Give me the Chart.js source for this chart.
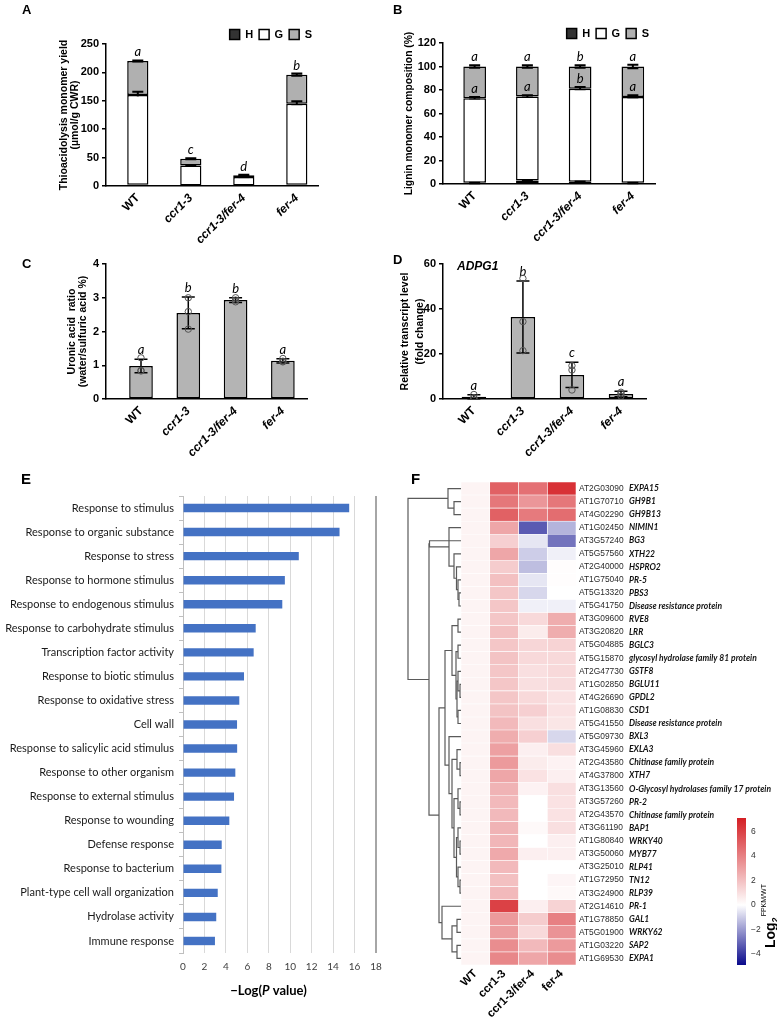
<!DOCTYPE html>
<html><head><meta charset="utf-8">
<script src="https://cdn.jsdelivr.net/npm/chart.js@4.4.1/dist/chart.umd.min.js"></script>
<style>
html,body{margin:0;padding:0;background:#fff;}
#page{position:relative;width:777px;height:1018px;overflow:hidden;background:#fff;}
canvas{position:absolute;}
.pl{position:absolute;font-family:"Liberation Sans",Arial,sans-serif;font-weight:bold;line-height:1;color:#000;}
</style></head><body><div id="page">
<canvas id="cA" width="340" height="260" style="left:0px;top:0px"></canvas>
<canvas id="cB" width="300" height="260" style="left:380px;top:0px"></canvas>
<canvas id="cC" width="340" height="240" style="left:0px;top:230px"></canvas>
<canvas id="cD" width="300" height="240" style="left:380px;top:230px"></canvas>
<canvas id="cE" width="390" height="548" style="left:0px;top:470px"></canvas>
<canvas id="cF" width="377" height="548" style="left:400px;top:470px"></canvas>
<canvas id="cK" width="77" height="180" style="left:700px;top:800px"></canvas>
<div class="pl" style="left:22px;top:3px;font-size:13px">A</div>
<div class="pl" style="left:393px;top:3px;font-size:13px">B</div>
<div class="pl" style="left:22px;top:257px;font-size:13px">C</div>
<div class="pl" style="left:393px;top:253px;font-size:13px">D</div>
<div class="pl" style="left:21px;top:471px;font-size:15px">E</div>
<div class="pl" style="left:411px;top:471px;font-size:15px">F</div>
</div>
<script>
// ---------------- DATA ----------------
const genotypes = ['WT', 'ccr1-3', 'ccr1-3/fer-4', 'fer-4'];
const monomers = ['H', 'G', 'S'];

// Panel A: thioacidolysis monomer yield (µmol/g CWR)
const thioH = [2, 1, 1, 2];
const thioG = [158, 35, 15, 143];
const thioS = [60, 12, 3, 51];
const thioErrG = [6, 0.5, 0.8, 4];
const thioErrTotal = [1, 1, 1, 2];
const thioLetters = ['a', 'c', 'd', 'b'];

// Panel B: lignin monomer composition (%)
const compH = [1, 3, 2, 1];
const compG = [72, 71.5, 79, 73];
const compS = [27, 25.5, 19, 26];
const compErrH = [0.3, 0.8, 0.5, 0.3];
const compErrG = [1, 1, 1.5, 1.5];
const compErrTotal = [1, 1, 1, 1.5];
const compLettersH = ['a', 'b', 'a', 'a'];
const compLettersG = ['a', 'a', 'b', 'a'];
const compLettersTotal = ['a', 'a', 'b', 'a'];

// Panel C: uronic acid ratio
const uronicMean = [0.98, 2.55, 2.93, 1.13];
const uronicSd = [0.2, 0.47, 0.07, 0.06];
const uronicPoints = [[1.22, 0.83, 0.85], [3.0, 2.59, 2.07], [3.0, 2.93, 2.88], [1.2, 1.12, 1.1]];
const uronicLetters = ['a', 'b', 'b', 'a'];

// Panel D: ADPG1 relative transcript level
const adpgMean = [1.0, 36.5, 10.7, 2.2];
const adpgSd = [0.9, 16, 5.6, 1.2];
const adpgPoints = [[2.0, 0.5, 0.5], [53.6, 34.4, 21.5], [14.8, 12.9, 4.0], [3.0, 2.3, 1.3]];
const adpgLetters = ['a', 'b', 'c', 'a'];

// Panel E: GO enrichment
const goTerms = ['Response to stimulus', 'Response to organic substance', 'Response to stress',
  'Response to hormone stimulus', 'Response to endogenous stimulus', 'Response to carbohydrate stimulus',
  'Transcription factor activity', 'Response to biotic stimulus', 'Response to oxidative stress',
  'Cell wall', 'Response to salicylic acid stimulus', 'Response to other organism',
  'Response to external stimulus', 'Response to wounding', 'Defense response',
  'Response to bacterium', 'Plant-type cell wall organization', 'Hydrolase activity', 'Immune response'];
const goNegLogP = [15.5, 14.6, 10.8, 9.5, 9.26, 6.78, 6.59, 5.69, 5.25, 5.04, 5.05, 4.88, 4.76, 4.32, 3.61, 3.58, 3.24, 3.1, 2.98];
const goTicks = [0, 2, 4, 6, 8, 10, 12, 14, 16, 18];

// Panel F: heatmap log2(FPKM/WT)
const geneIds = ['AT2G03090', 'AT1G70710', 'AT4G02290', 'AT1G02450', 'AT3G57240', 'AT5G57560', 'AT2G40000',
  'AT1G75040', 'AT5G13320', 'AT5G41750', 'AT3G09600', 'AT3G20820', 'AT5G04885', 'AT5G15870', 'AT2G47730',
  'AT1G02850', 'AT4G26690', 'AT1G08830', 'AT5G41550', 'AT5G09730', 'AT3G45960', 'AT2G43580', 'AT4G37800',
  'AT3G13560', 'AT3G57260', 'AT2G43570', 'AT3G61190', 'AT1G80840', 'AT3G50060', 'AT3G25010', 'AT1G72950',
  'AT3G24900', 'AT2G14610', 'AT1G78850', 'AT5G01900', 'AT1G03220', 'AT1G69530'];
const geneNames = ['EXPA15', 'GH9B1', 'GH9B13', 'NIMIN1', 'BG3', 'XTH22', 'HSPRO2', 'PR-5', 'PBS3',
  'Disease resistance protein', 'RVE8', 'LRR', 'BGLC3', 'glycosyl hydrolase family 81 protein', 'GSTF8',
  'BGLU11', 'GPDL2', 'CSD1', 'Disease resistance protein', 'BXL3', 'EXLA3', 'Chitinase family protein', 'XTH7',
  'O-Glycosyl hydrolases family 17 protein', 'PR-2', 'Chitinase family protein', 'BAP1', 'WRKY40', 'MYB77',
  'RLP41', 'TN12', 'RLP39', 'PR-1', 'GAL1', 'WRKY62', 'SAP2', 'EXPA1'];
const log2WT = [0.35, 0.35, 0.35, 0.35, 0.35, 0.35, 0.35, 0.35, 0.35, 0.35, 0.35, 0.35, 0.35, 0.35, 0.35, 0.35, 0.35, 0.35, 0.35,
  0.35, 0.35, 0.35, 0.35, 0.35, 0.35, 0.35, 0.35, 0.35, 0.35, 0.35, 0.35, 0.35, 0.35, 0.35, 0.35, 0.35, 0.35];
const log2Ccr = [5.0, 4.3, 5.0, 2.8, 1.5, 2.8, 1.6, 2.0, 1.8, 1.8, 1.8, 2.0, 1.8, 1.9, 1.8, 1.8, 1.8, 1.9, 2.2,
  2.6, 3.0, 3.2, 2.8, 2.4, 2.2, 2.2, 2.4, 2.3, 2.7, 2.2, 2.0, 2.2, 6.0, 3.2, 3.1, 3.6, 3.8];
const log2CcrFer = [4.5, 3.3, 4.2, -3.3, -0.5, -1.0, -1.3, -0.5, -0.8, -0.3, 1.2, 0.6, 1.3, 1.2, 1.0, 1.0, 1.2, 1.5, 1.0,
  1.5, 0.5, 0.6, 0.9, 0.4, 0, 0, 0.2, 0, 0.5, 0, 0, 0, 0.5, 1.6, 1.2, 2.2, 2.8];
const log2Fer = [6.5, 4.3, 4.6, -1.5, -2.8, -0.3, 0.05, 0.05, 0, -0.3, 2.6, 2.6, 1.4, 1.2, 1.2, 1.1, 0.9, 0.9, 0.8,
  -0.8, 1.0, 0.4, 0.5, 1.0, 0.9, 0.9, 1.0, 0.5, 0.5, 0, 0.3, 0.2, 1.4, 4.0, 3.4, 3.2, 3.6];
const heatColumns = [log2WT, log2Ccr, log2CcrFer, log2Fer];
const colorbarMin = -4.9, colorbarMax = 7.1;
const colorbarTicks = [-4, -2, 0, 2, 4, 6];
// dendrogram merges [childA, childB, distance]; indices >= 37 refer to earlier merges
const dendroMerges = [
  [1, 2, 7], [0, 37, 13], [8, 9, 2], [7, 39, 3], [6, 40, 4.5], [5, 41, 7], [3, 42, 12], [4, 43, 31.5],
  [10, 11, 3], [12, 13, 3], [15, 16, 1], [14, 47, 3], [17, 18, 3], [48, 49, 4], [46, 50, 5], [45, 51, 9],
  [21, 22, 1], [20, 53, 4], [24, 25, 1], [23, 55, 3], [27, 28, 1], [26, 57, 3], [30, 31, 1], [29, 59, 3],
  [58, 60, 4.5], [56, 61, 7], [54, 62, 9], [19, 63, 12], [52, 64, 16], [33, 34, 4], [35, 36, 4], [66, 67, 9],
  [32, 68, 19], [65, 69, 22], [44, 70, 32], [38, 71, 53]];

// ---------------- HELPERS ----------------
const SANS = '"Liberation Sans", Arial, sans-serif';
Chart.defaults.font.family = SANS;
Chart.defaults.color = '#000';
Chart.defaults.animation = false;
Chart.defaults.plugins.tooltip.enabled = false;

function heatColor(v) {
  const lo = [10, 10, 140], hi = [212, 30, 35];
  let t, c;
  if (v >= 0) { t = Math.min(v / colorbarMax, 1); c = hi; } else { t = Math.min(v / colorbarMin, 1); c = lo; }
  const r = Math.round(255 + (c[0] - 255) * t), g = Math.round(255 + (c[1] - 255) * t), b = Math.round(255 + (c[2] - 255) * t);
  return `rgb(${r},${g},${b})`;
}

const errPlugin = {
  id: 'errPlugin',
  afterDatasetDraw(chart, args, opts) {
    if (args.index !== opts.afterIndex) return;
    const { ctx, scales: { x, y } } = chart;
    ctx.save();
    opts.levels.forEach(lv => {
      lv.at.forEach((v, i) => {
        const px = x.getPixelForValue(i);
        const e = lv.err[i];
        const yt = y.getPixelForValue(v + e), yb = y.getPixelForValue(v - e);
        if (e > 0) {
          ctx.strokeStyle = '#000'; ctx.lineWidth = opts.lineWidth;
          ctx.beginPath();
          ctx.moveTo(px, yt); ctx.lineTo(px, yb);
          ctx.moveTo(px - opts.cap / 2, yt); ctx.lineTo(px + opts.cap / 2, yt);
          ctx.moveTo(px - opts.cap / 2, yb); ctx.lineTo(px + opts.cap / 2, yb);
          ctx.stroke();
        }
        if (lv.letters) {
          ctx.fillStyle = '#000'; ctx.font = opts.letterFont;
          ctx.textAlign = 'center'; ctx.textBaseline = 'alphabetic';
          ctx.fillText(lv.letters[i], px, yt - opts.letterGap);
        }
      });
    });
    ctx.restore();
  }
};

const legendShift = {
  id: 'legendShift',
  afterLayout(chart, args, opts) {
    if (chart.legend && opts.dy) { chart.legend.top += opts.dy; chart.legend.bottom += opts.dy; }
  }
};

const innerLabel = {
  id: 'innerLabel',
  afterDraw(chart, args, opts) {
    if (!opts.text) return;
    const { ctx, chartArea } = chart;
    ctx.save(); ctx.font = opts.font; ctx.fillStyle = '#000'; ctx.textBaseline = 'middle';
    ctx.fillText(opts.text, chartArea.left + opts.dx, chartArea.top + opts.dy);
    ctx.restore();
  }
};

function xTickFont(size) {
  return c => ({ family: SANS, size: size, weight: 'bold', style: c.index === 0 ? 'normal' : 'italic' });
}

function genotypeX(min, max, xh) {
  return {
    type: 'linear', min: min, max: max, stacked: true, offset: false,
    afterBuildTicks: s => { s.ticks = genotypes.map((_, i) => ({ value: i })); },
    ticks: { callback: v => genotypes[v], autoSkip: false, minRotation: 45, maxRotation: 45, padding: 5, font: xTickFont(12) },
    grid: { display: false, drawTicks: false },
    border: { color: '#000', width: 1.5 },
    afterFit: s => { s.height = xh; }
  };
}
function valueY(min, max, step, title, titleSize, titleLH, yw) {
  return {
    min: min, max: max, stacked: true,
    ticks: { stepSize: step, font: { weight: 'bold', size: 11 }, padding: 3 },
    grid: { drawOnChartArea: false, drawTicks: true, tickLength: 4, color: '#000', lineWidth: 1.5 },
    border: { color: '#000', width: 1.5 },
    title: { display: true, text: title, font: { weight: 'bold', size: titleSize, lineHeight: titleLH }, padding: 0 },
    afterFit: s => { s.width = yw; }
  };
}

function stackedChart(id, H, G, S, pad, xr, ymax, ystep, title, titleSize, yw, xh, levels, barPct) {
  const parts = [H, G, S];
  const fills = ['#333333', '#ffffff', '#b0b0b0'];
  return new Chart(document.getElementById(id), {
    type: 'bar',
    data: {
      datasets: monomers.map((m, k) => ({
        label: m, data: parts[k].map((v, i) => ({ x: i, y: v })),
        backgroundColor: fills[k], borderColor: '#000', borderWidth: 1.5, borderSkipped: false,
        barPercentage: barPct, categoryPercentage: 1
      }))
    },
    options: {
      responsive: false, devicePixelRatio: 1,
      layout: { padding: pad },
      plugins: {
        legend: { display: true, position: 'top', align: 'end',
          labels: { boxWidth: 10, boxHeight: 10, padding: 6, color: '#000', font: { weight: 'bold', size: 11 } } },
        legendShift: { dy: 6 },
        errPlugin: { afterIndex: 2, levels: levels, cap: 11, lineWidth: 2, letterFont: 'italic 13px Lato', letterGap: 4 }
      },
      scales: { x: genotypeX(xr[0], xr[1], xh), y: valueY(0, ymax, ystep, title, titleSize, 1.05, yw) }
    },
    plugins: [errPlugin, legendShift]
  });
}

function meanChart(id, means, sd, pts, letters, pad, xr, ymax, ystep, title, titleSize, titleLH, yw, xh, barPct, inner) {
  return new Chart(document.getElementById(id), {
    type: 'bar',
    data: {
      datasets: [
        { type: 'bar', data: means.map((v, i) => ({ x: i, y: v })), backgroundColor: '#b4b4b4', borderColor: '#000',
          borderWidth: 1.5, borderSkipped: false, barPercentage: barPct, categoryPercentage: 1, order: 2 },
        { type: 'scatter', data: pts.flatMap((arr, i) => arr.map(v => ({ x: i, y: v }))), pointRadius: 3.2,
          pointBackgroundColor: 'rgba(255,255,255,0)', pointBorderColor: '#555', pointBorderWidth: 1, order: 1 }
      ]
    },
    options: {
      responsive: false, devicePixelRatio: 1,
      layout: { padding: pad },
      plugins: {
        legend: { display: false },
        errPlugin: { afterIndex: 0, levels: [{ at: means, err: sd, letters: letters }], cap: 13, lineWidth: 1.5, letterFont: 'italic 13px Lato', letterGap: 5 },
        innerLabel: inner
      },
      scales: { x: genotypeX(xr[0], xr[1], xh), y: valueY(0, ymax, ystep, title, titleSize, titleLH, yw) }
    },
    plugins: [errPlugin, innerLabel]
  });
}

// ---------------- PANEL A ----------------
stackedChart('cA', thioH, thioG, thioS, { left: 59, right: 22, top: 17, bottom: 0 }, [-0.6, 3.4], 250, 50,
  ['Thioacidolysis monomer yield', '(\u00b5mol/g CWR)'], 10.5, 47, 74,
  [{ at: thioH.map((v, i) => v + thioG[i]), err: thioErrG },
   { at: thioH.map((v, i) => v + thioG[i] + thioS[i]), err: thioErrTotal, letters: thioLetters }], 0.4);

// ---------------- PANEL B ----------------
stackedChart('cB', compH, compG, compS, { left: 24, right: 25, top: 16, bottom: 0 }, [-0.6, 3.42], 120, 20,
  'Lignin monomer composition (%)', 10.3, 39, 76,
  [{ at: compH, err: compErrH, letters: compLettersH },
   { at: compH.map((v, i) => v + compG[i]), err: compErrG, letters: compLettersG },
   { at: compH.map((v, i) => v + compG[i] + compS[i]), err: compErrTotal, letters: compLettersTotal }], 0.43);

// ---------------- PANEL C ----------------
meanChart('cC', uronicMean, uronicSd, uronicPoints, uronicLetters, { left: 66, right: 33, top: 34, bottom: 0 },
  [-0.74, 3.51], 4, 1, ['Uronic acid  ratio', '(water/sulfuric acid %)'], 10.5, 1.1, 40, 71, 0.5, {});

// ---------------- PANEL D ----------------
meanChart('cD', adpgMean, adpgSd, adpgPoints, adpgLetters, { left: 18, right: 34, top: 34, bottom: 0 },
  [-0.63, 3.51], 60, 20, ['Relative transcript level', '(fold change)'], 10.5, 1.4, 45, 71, 0.5,
  { text: 'ADPG1', font: 'italic bold 12px ' + SANS, dx: 14, dy: 3 });

// ---------------- PANEL E ----------------
const eTitle = {
  id: 'eTitle',
  afterDraw(chart) {
    const { ctx, chartArea } = chart;
    const parts = [['\u2212Log(', 'bold 13px Lato'], ['P', 'italic bold 13px Lato'], [' value)', 'bold 13px Lato']];
    ctx.save();
    let w = 0;
    parts.forEach(p => { ctx.font = p[1]; w += ctx.measureText(p[0]).width; });
    let x = (chartArea.left + chartArea.right) / 2 - 11 - w / 2;
    const y = chartArea.bottom + 42;
    ctx.fillStyle = '#000'; ctx.textBaseline = 'alphabetic'; ctx.textAlign = 'left';
    parts.forEach(p => { ctx.font = p[1]; ctx.fillText(p[0], x, y); x += ctx.measureText(p[0]).width; });
    ctx.restore();
  }
};
new Chart(document.getElementById('cE'), {
  type: 'bar',
  data: { labels: goTerms, datasets: [{ data: goNegLogP, backgroundColor: '#4472C4', barPercentage: 0.35, categoryPercentage: 1 }] },
  options: {
    indexAxis: 'y', responsive: false, devicePixelRatio: 1,
    layout: { padding: { left: 0, right: 14, top: 26, bottom: 0 } },
    plugins: { legend: { display: false } },
    scales: {
      x: { min: 0, max: 18,
        afterBuildTicks: s => { s.ticks = goTicks.map(v => ({ value: v })); },
        ticks: { font: { size: 10, family: 'Lato' }, color: '#404040', padding: 8 },
        grid: { color: c => c.tick && c.tick.value === 18 ? '#a6a6a6' : '#d9d9d9', lineWidth: c => c.tick && c.tick.value === 18 ? 2 : 1, drawTicks: false },
        border: { display: false },
        afterFit: s => { s.height = 65; } },
      y: { ticks: { font: { size: 11, family: 'Lato' }, color: '#1a1a1a', padding: 5, autoSkip: false },
        grid: { drawOnChartArea: false, drawTicks: true, tickLength: 4, color: '#bfbfbf' },
        border: { color: '#bfbfbf' },
        afterFit: s => { s.width = 183; } }
    }
  },
  plugins: [eTitle]
});

// ---------------- PANEL F ----------------
const dendroPlugin = {
  id: 'dendro',
  afterDraw(chart, args, opts) {
    const { ctx, chartArea, scales: { y } } = chart;
    const n = geneIds.length;
    const maxH = Math.max(...dendroMerges.map(m => m[2]));
    const xOf = h => chartArea.left - h / maxH * opts.width;
    const nodes = [];
    for (let i = 0; i < n; i++) nodes.push({ x: xOf(0), y: y.getPixelForValue(i) });
    ctx.save();
    ctx.strokeStyle = opts.color; ctx.lineWidth = opts.lineWidth;
    dendroMerges.forEach(m => {
      const a = nodes[m[0]], b = nodes[m[1]];
      const nx = xOf(m[2]);
      ctx.beginPath();
      ctx.moveTo(a.x, a.y); ctx.lineTo(nx, a.y); ctx.lineTo(nx, b.y); ctx.lineTo(b.x, b.y);
      ctx.stroke();
      nodes.push({ x: nx, y: (a.y + b.y) / 2 });
    });
    ctx.restore();
  }
};
new Chart(document.getElementById('cF'), {
  type: 'bar',
  data: {
    labels: geneIds,
    datasets: genotypes.map((g, j) => ({
      label: g, data: geneIds.map(() => 1), backgroundColor: heatColumns[j].map(heatColor),
      borderColor: '#ffffff', borderWidth: 0.6, borderSkipped: false, barPercentage: 1, categoryPercentage: 1
    }))
  },
  options: {
    indexAxis: 'y', responsive: false, devicePixelRatio: 1,
    layout: { padding: { left: 61, right: 0, top: 12, bottom: 0 } },
    plugins: { legend: { display: false }, dendro: { width: 53, color: '#5a5a5a', lineWidth: 1.2 } },
    scales: {
      x: { type: 'linear', stacked: true, min: 0, max: 4,
        afterBuildTicks: s => { s.ticks = genotypes.map((_, i) => ({ value: i + 0.5 })); },
        ticks: { callback: (v, i) => genotypes[i], autoSkip: false, minRotation: 45, maxRotation: 45, padding: 2,
          font: { weight: 'bold', size: 11.5 } },
        grid: { display: false, drawTicks: false }, border: { display: false },
        afterFit: s => { s.height = 53; } },
      y: { position: 'right', stacked: true, weight: 1,
        ticks: { font: { size: 8.4 }, color: '#2a2a2a', padding: 3, autoSkip: false },
        grid: { display: false, drawTicks: false }, border: { display: false },
        afterFit: s => { s.width = 53; } },
      y2: { type: 'category', labels: geneNames, position: 'right', offset: true, weight: 2,
        ticks: { font: { size: 8.5, weight: 'bold', style: 'italic', family: 'Lato' }, color: '#111', padding: 0, autoSkip: false },
        grid: { display: false, drawTicks: false }, border: { display: false },
        afterFit: s => { s.width = 148; } }
    }
  },
  plugins: [dendroPlugin]
});

// colour bar
const cbarPlugin = {
  id: 'cbar',
  beforeDatasetsDraw(chart) {
    const { ctx, chartArea, scales: { y } } = chart;
    const yTop = y.getPixelForValue(colorbarMax), yBot = y.getPixelForValue(colorbarMin);
    const grad = ctx.createLinearGradient(0, yBot, 0, yTop);
    [colorbarMin, 0, colorbarMax].forEach(v => grad.addColorStop((v - colorbarMin) / (colorbarMax - colorbarMin), heatColor(v)));
    ctx.save(); ctx.fillStyle = grad;
    ctx.fillRect(chartArea.left, yTop, chartArea.right - chartArea.left, yBot - yTop);
    ctx.translate(chartArea.right + 29, yBot - 17);
    ctx.rotate(-Math.PI / 2);
    ctx.fillStyle = '#000'; ctx.textBaseline = 'alphabetic'; ctx.textAlign = 'left';
    ctx.font = 'bold 14px ' + SANS; ctx.fillText('Log', 0, 0);
    let w = ctx.measureText('Log').width;
    ctx.font = 'bold 9px ' + SANS; ctx.fillText('2', w, 3);
    w += ctx.measureText('2').width + 1;
    ctx.font = '7px ' + SANS; ctx.fillText('FPKM/WT', w, -9);
    ctx.restore();
  }
};
new Chart(document.getElementById('cK'), {
  type: 'bar',
  data: { labels: [], datasets: [] },
  options: {
    responsive: false, devicePixelRatio: 1,
    layout: { padding: { left: 37, right: 0, top: 18, bottom: 15 } },
    plugins: { legend: { display: false } },
    scales: {
      x: { display: false },
      y: { position: 'right', min: colorbarMin, max: colorbarMax,
        afterBuildTicks: s => { s.ticks = colorbarTicks.map(v => ({ value: v })); },
        ticks: { callback: v => (v < 0 ? '\u2212' : '') + Math.abs(v), font: { size: 8.5 }, color: '#333', padding: 5 },
        grid: { display: false, drawTicks: false }, border: { display: false },
        afterFit: s => { s.width = 31; } }
    }
  },
  plugins: [cbarPlugin]
});
</script></body></html>
